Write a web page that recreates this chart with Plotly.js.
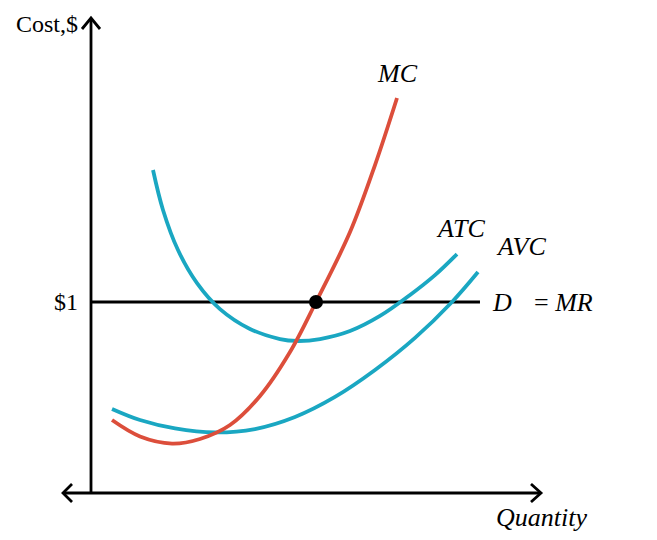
<!DOCTYPE html>
<html>
<head>
<meta charset="utf-8">
<script src="https://cdn.plot.ly/plotly-3.0.1.min.js"></script>
<style>html,body{margin:0;padding:0;background:#fff;}#chart{width:657px;height:540px;}</style>
</head>
<body>
<div id="chart"></div>
<script>
// Quantity (arbitrary units) and cost ($)
const mcQ = [0.467, 1.089, 1.8, 2.422, 3.089, 3.756, 4.422, 5.0, 5.756, 6.311, 6.8];
const mcC = [0.382, 0.296, 0.259, 0.283, 0.356, 0.508, 0.738, 1.0, 1.366, 1.717, 2.068];

const atcQ = [1.378, 1.6, 1.933, 2.356, 2.867, 3.533, 4.2, 4.578, 5.089, 5.756, 6.422, 7.089, 7.644, 8.133];
const atcC = [1.691, 1.482, 1.272, 1.099, 0.963, 0.859, 0.806, 0.796, 0.806, 0.848, 0.927, 1.037, 1.141, 1.251];

const avcQ = [0.467, 1.089, 1.867, 2.756, 3.644, 4.533, 5.422, 6.311, 7.2, 8.022, 8.6];
const avcC = [0.440, 0.382, 0.338, 0.317, 0.335, 0.398, 0.503, 0.644, 0.812, 1.0, 1.157];

const priceQ = [0, 8.644];
const priceC = [1, 1];

const eqQ = [5.0];
const eqC = [1];

const labels = {cost: 'Cost,$', price: '$1', d: '<i>D</i>', mr: '=\u00a0<i>MR</i>', mc: '<i>MC</i>', atc: '<i>ATC</i>', avc: '<i>AVC</i>', qty: '<i>Quantity</i>'};

const RED = '#dc4e3b';
const TEAL = '#1aa7c2';
const FONT = 'Liberation Serif, DejaVu Serif, serif';

// axis extents
const xMin = -0.8, xMax = 10.2, yMin = -0.08901, yMax = 2.5393;
const pxX = 11 / 495, pxY = (yMax - yMin) / 502; // data units per pixel
const yTop = 2.487, xLeft = -0.622, xRight = 10.0;

function line(x0, y0, x1, y1) {
  return {type: 'line', xref: 'x', yref: 'y', x0, y0, x1, y1, line: {color: '#000', width: 2.8}};
}
function chev(pts) {
  return {type: 'path', xref: 'x', yref: 'y', path: 'M' + pts.map(p => p[0] + ',' + p[1]).join(' L'), line: {color: '#000', width: 2.8}};
}

const shapes = [
  line(0, 0, 0, yTop),
  line(xLeft, 0, xRight, 0),
  chev([[-9 * pxX, yTop - 11 * pxY], [0, yTop], [9 * pxX, yTop - 11 * pxY]]),
  chev([[xRight - 10 * pxX, 9 * pxY], [xRight, 0], [xRight - 10 * pxX, -9 * pxY]]),
  chev([[xLeft + 9 * pxX, 9 * pxY], [xLeft, 0], [xLeft + 9 * pxX, -9 * pxY]])
];

const traces = [
  {x: priceQ, y: priceC, mode: 'lines', line: {color: '#000', width: 2.8}, hoverinfo: 'skip'},
  {x: atcQ, y: atcC, mode: 'lines', line: {color: TEAL, width: 3.8, shape: 'spline', smoothing: 1}, hoverinfo: 'skip'},
  {x: avcQ, y: avcC, mode: 'lines', line: {color: TEAL, width: 3.8, shape: 'spline', smoothing: 1}, hoverinfo: 'skip'},
  {x: mcQ, y: mcC, mode: 'lines', line: {color: RED, width: 3.8, shape: 'spline', smoothing: 1}, hoverinfo: 'skip'},
  {x: eqQ, y: eqC, mode: 'markers', marker: {color: '#000', size: 14}, hoverinfo: 'skip'}
];

function ann(text, x, y, xanchor, size, ref) {
  return {text, x, y, xref: ref ? 'paper' : 'x', yref: ref ? 'paper' : 'y', showarrow: false,
    xanchor: xanchor || 'center', yanchor: 'middle', font: {family: FONT, size: size || 25, color: '#000'}};
}

const layout = {
  width: 657, height: 540,
  margin: {l: 55, r: 107, t: 8, b: 30},
  paper_bgcolor: '#fff', plot_bgcolor: '#fff',
  showlegend: false,
  xaxis: {range: [xMin, xMax], visible: false, fixedrange: true},
  yaxis: {range: [yMin, yMax], visible: false, fixedrange: true},
  shapes,
  annotations: [
    ann(labels.cost, -0.244, 2.455, 'right', 24),
    ann(labels.price, -0.244, 1, 'right', 24),
    ann(labels.d, 8.867, 1, 'left', 26),
    ann(labels.mr, 9.8, 1, 'left', 26),
    ann(labels.mc, 6.822, 2.199, 'center', 26),
    ann(labels.atc, 8.2, 1.387, 'center', 26),
    ann(labels.avc, 9.556, 1.288, 'center', 26),
    ann(labels.qty, (541 - 55) / 495, (510 - 517) / 502, 'center', 26, true)
  ]
};

Plotly.newPlot('chart', traces, layout, {displayModeBar: false, staticPlot: true});
</script>
</body>
</html>
